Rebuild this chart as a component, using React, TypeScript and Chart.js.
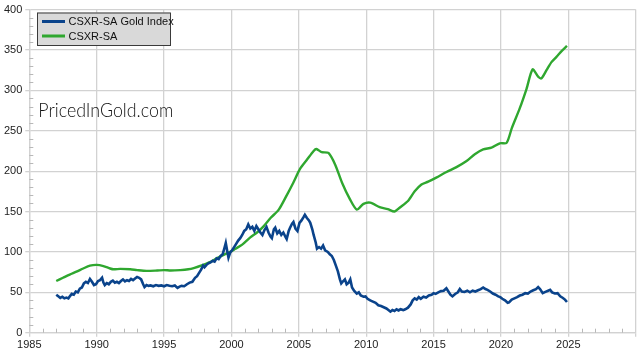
import React, { useEffect, useRef } from "react";
import { Chart, registerables } from "chart.js";

Chart.register(...registerables);

// CSXR-SA (Case-Shiller composite, seasonally adjusted)
const csxrYears = [
  1987.0, 1987.5, 1988.0, 1988.5, 1989.0, 1989.5, 1990.0, 1990.5, 1991.0, 1991.25,
  1991.75, 1992.5, 1993.0, 1993.7, 1994.5, 1995.0, 1995.5, 1996.2, 1996.8, 1997.2,
  1997.9, 1998.5, 1998.9, 1999.5, 1999.9, 2000.3, 2000.8, 2001.4, 2001.9, 2002.4,
  2002.9, 2003.5, 2004.1, 2004.6, 2005.1, 2005.6, 2006.1, 2006.3, 2006.7, 2007.2,
  2007.7, 2008.2, 2008.8, 2009.3, 2009.8, 2010.3, 2011.0, 2011.6, 2012.1, 2012.5,
  2013.1, 2013.6, 2014.1, 2014.6, 2015.2, 2015.96, 2016.7, 2017.45, 2018.06, 2018.68,
  2019.3, 2019.92, 2020.42, 2020.8, 2021.4, 2021.9, 2022.35, 2022.76, 2023.01, 2023.38,
  2023.75, 2024.12, 2024.5, 2024.9,
];
const csxrValues = [
  64, 68, 72, 75.5, 79.5, 83, 84, 82.5, 79.5, 78.5,
  79, 78.5, 77.5, 76.5, 77, 77.5, 77, 77.5, 78.5, 80,
  84, 88, 92, 97, 100, 104, 109, 118, 124, 132,
  142, 152, 170, 186, 203, 214, 225, 227.4, 223.5, 222.5,
  208, 186, 165, 152.5, 159.5, 161, 155.5, 153, 150, 155,
  163, 175, 183.5, 187, 192, 199, 205, 212.5, 221, 227,
  229, 234.5, 235, 253, 278, 302, 326, 317, 315, 325,
  335, 341.5, 348.5, 355,
];

// CSXR-SA Gold Index
const goldYears = [
  1987.0, 1987.15, 1987.3, 1987.45, 1987.6, 1987.75, 1987.9, 1988.05, 1988.15, 1988.3,
  1988.45, 1988.6, 1988.75, 1988.9, 1989.05, 1989.2, 1989.35, 1989.5, 1989.65, 1989.8,
  1989.95, 1990.1, 1990.25, 1990.4, 1990.5, 1990.6, 1990.75, 1990.9, 1991.05, 1991.2,
  1991.35, 1991.5, 1991.65, 1991.8, 1991.95, 1992.1, 1992.25, 1992.4, 1992.55, 1992.7,
  1992.85, 1993.0, 1993.15, 1993.3, 1993.45, 1993.55, 1993.7, 1993.85, 1994.0, 1994.2,
  1994.4, 1994.6, 1994.8, 1995.0, 1995.2, 1995.4, 1995.6, 1995.8, 1996.0, 1996.15,
  1996.3, 1996.5, 1996.7, 1996.9, 1997.1, 1997.3, 1997.45, 1997.6, 1997.75, 1997.9,
  1998.0, 1998.15, 1998.3, 1998.45, 1998.6, 1998.75, 1998.9, 1999.05, 1999.2, 1999.35,
  1999.5, 1999.58, 1999.7, 1999.78, 1999.9, 2000.05, 2000.2, 2000.35, 2000.5, 2000.65,
  2000.8, 2000.95, 2001.1, 2001.25, 2001.4, 2001.55, 2001.7, 2001.85, 2002.0, 2002.15,
  2002.3, 2002.45, 2002.6, 2002.75, 2002.9, 2003.0, 2003.15, 2003.25, 2003.4, 2003.55,
  2003.7, 2003.85, 2004.0, 2004.1, 2004.25, 2004.35, 2004.5, 2004.6, 2004.75, 2004.9,
  2005.05, 2005.2, 2005.35, 2005.45, 2005.6, 2005.75, 2005.85, 2006.0, 2006.1, 2006.25,
  2006.35, 2006.5, 2006.65, 2006.8, 2006.95, 2007.15, 2007.3, 2007.45, 2007.6, 2007.75,
  2007.9, 2008.05, 2008.15, 2008.3, 2008.42, 2008.55, 2008.7, 2008.82, 2008.95, 2009.1,
  2009.3, 2009.45, 2009.6, 2009.8, 2009.95, 2010.1, 2010.3, 2010.5, 2010.7, 2010.9,
  2011.1, 2011.3, 2011.5, 2011.65, 2011.8, 2011.95, 2012.1, 2012.25, 2012.4, 2012.55,
  2012.75, 2012.9, 2013.1, 2013.3, 2013.45, 2013.6, 2013.75, 2013.9, 2014.05, 2014.25,
  2014.45, 2014.65, 2014.85, 2015.0, 2015.15, 2015.35, 2015.55, 2015.75, 2015.95, 2016.1,
  2016.25, 2016.4, 2016.6, 2016.8, 2016.95, 2017.1, 2017.3, 2017.5, 2017.7, 2017.9,
  2018.1, 2018.3, 2018.5, 2018.68, 2018.85, 2019.0, 2019.2, 2019.4, 2019.6, 2019.8,
  2019.95, 2020.1, 2020.3, 2020.5, 2020.6, 2020.8, 2021.0, 2021.2, 2021.4, 2021.6,
  2021.8, 2022.0, 2022.2, 2022.4, 2022.6, 2022.76, 2022.9, 2023.1, 2023.3, 2023.5,
  2023.65, 2023.8, 2024.0, 2024.2, 2024.4, 2024.6, 2024.75, 2024.9,
];
const goldValues = [
  47, 45, 43, 44.5, 42.5, 43.5, 42.5, 46, 48, 47,
  51, 50, 54.5, 56, 61, 63, 61.5, 66.5, 63, 59,
  60, 64, 65, 68, 62, 59, 61.5, 60, 63, 64.5,
  62, 63, 61.5, 64, 66, 63.5, 65, 64, 66.5, 65,
  67, 69, 68, 66, 60, 56.5, 59, 58, 58.5, 57.5,
  59, 58, 58.5, 57.5, 59, 58, 57.5, 58.5, 55.5, 57,
  58, 57.5, 60, 62, 63, 68, 70, 74, 78, 83,
  81, 84, 86, 87, 89, 88, 92, 91, 95, 97,
  106, 111, 100, 93, 99, 102, 106, 110, 114, 117,
  121, 126, 128, 134, 129, 131, 126, 132, 128, 124,
  121, 127, 131, 124, 119, 117, 128, 130, 123, 126,
  121, 124, 119, 116, 126, 130, 135, 137, 129, 126,
  136, 139, 143, 146, 142, 139, 136, 128, 121, 112,
  104, 106, 104, 108, 102, 100, 97, 95, 90, 83,
  76, 66, 61, 64, 66, 60, 62, 66, 56, 52,
  48.5, 50, 46, 44.5, 45, 42, 40, 38.5, 37, 34,
  33, 31.5, 30, 28, 26, 28, 27, 29, 27.5, 29,
  28, 29, 31, 35, 40, 42.5, 41, 44, 42, 44.5,
  43.5, 46, 47, 49, 48, 50, 51.5, 52, 55, 51,
  47, 45, 48, 50, 54, 51, 50.5, 52, 50, 52,
  51, 52.5, 54, 56, 54, 53, 51, 48.5, 47, 45,
  44, 42, 40, 37, 37.5, 41, 42.5, 44, 46, 47,
  49, 48.5, 51, 52.5, 54, 56.5, 54, 49, 50.5, 52,
  53, 50, 48.5, 49, 45, 43, 41, 38,
];

const legendLabels = ["CSXR-SA Gold Index", "CSXR-SA"];
const xTickYears = [1985, 1990, 1995, 2000, 2005, 2010, 2015, 2020, 2025];
const watermark = "PricedInGold.com";

const BLUE = "#0a438b";
const GREEN = "#2fa72f";
const GRID = "#d2d2d2";

const decorPlugin = {
  id: "decor",
  beforeDatasetsDraw(chart: any) {
    const { ctx, chartArea, scales } = chart;
    const xs = scales.x;
    const ys = scales.y;
    ctx.save();
    ctx.strokeStyle = "#b8b8b8";
    ctx.lineWidth = 1;
    for (let v = 10; v < 400; v += 10) {
      if (v % 50 === 0) continue;
      const y = Math.round(ys.getPixelForValue(v)) + 0.5;
      ctx.beginPath();
      ctx.moveTo(chartArea.left, y);
      ctx.lineTo(chartArea.left + 4, y);
      ctx.stroke();
    }
    for (let v = 1986; v < 2030; v += 1) {
      if (v % 5 === 0) continue;
      const x = Math.round(xs.getPixelForValue(v)) + 0.5;
      ctx.beginPath();
      ctx.moveTo(x, chartArea.bottom);
      ctx.lineTo(x, chartArea.bottom - 4);
      ctx.stroke();
    }
    // watermark
    ctx.fillStyle = "#111";
    ctx.font = '300 19px "Lato", "DejaVu Sans", sans-serif';
    ctx.textBaseline = "alphabetic";
    ctx.textAlign = "left";
    ctx.fillText(watermark, chartArea.left + 9, 117, 135);
    ctx.restore();
  },
  afterDraw(chart: any) {
    const { ctx } = chart;
    ctx.save();
    const bx = 37, by = 12.5, bw = 133, bh = 32.5;
    ctx.fillStyle = "#d9d9d9";
    ctx.fillRect(bx, by, bw, bh);
    ctx.strokeStyle = "#3a3a3a";
    ctx.lineWidth = 1;
    ctx.strokeRect(bx + 0.5, by + 0.5, bw, bh);
    const colors = [BLUE, GREEN];
    const rows = [21.5, 36];
    ctx.font = '11px "Liberation Sans", Arial, sans-serif';
    ctx.textBaseline = "middle";
    ctx.fillStyle = "#111";
    legendLabels.forEach((lab, i) => {
      ctx.strokeStyle = colors[i];
      ctx.lineWidth = 3;
      ctx.beginPath();
      ctx.moveTo(42, rows[i]);
      ctx.lineTo(65, rows[i]);
      ctx.stroke();
      ctx.fillText(lab, 68.5, rows[i] + 0.5);
    });
    ctx.restore();
  },
};

export default function App() {
  const canvasRef = useRef<HTMLCanvasElement | null>(null);

  useEffect(() => {
    const canvas = canvasRef.current;
    if (!canvas) return;
    const goldData = goldYears.map((x, i) => ({ x, y: goldValues[i] }));
    const csxrData = csxrYears.map((x, i) => ({ x, y: csxrValues[i] }));
    const chart = new Chart(canvas, {
      type: "line",
      data: {
        datasets: [
          {
            label: legendLabels[0],
            data: goldData,
            borderColor: BLUE,
            borderWidth: 2.6,
            pointRadius: 0,
            tension: 0,
            fill: false,
          },
          {
            label: legendLabels[1],
            data: csxrData,
            borderColor: GREEN,
            borderWidth: 2.4,
            pointRadius: 0,
            tension: 0.25,
            fill: false,
          },
        ],
      },
      options: {
        responsive: false,
        animation: false,
        layout: { padding: { left: 0, right: 4.3, top: 7, bottom: 0 } },
        plugins: {
          legend: { display: false },
          tooltip: { enabled: false },
        },
        scales: {
          x: {
            type: "linear",
            min: 1985,
            max: 2030,
            afterBuildTicks: (scale: any) => {
              const t = xTickYears.map((v) => ({ value: v }));
              t.push({ value: 2030 });
              scale.ticks = t;
            },
            afterFit: (scale: any) => {
              scale.height = 23.3;
              scale.paddingLeft = 0;
              scale.paddingRight = 0;
            },
            ticks: {
              color: "#222",
              font: { family: '"Liberation Sans", Arial, sans-serif', size: 11 },
              padding: 2,
              maxRotation: 0,
              autoSkip: false,
              callback: (v: any) => (xTickYears.includes(Number(v)) ? String(v) : ""),
            },
            grid: { color: GRID, lineWidth: 1.3, tickLength: 4, tickColor: GRID },
            border: { color: GRID, width: 1.3 },
          },
          y: {
            type: "linear",
            min: 0,
            max: 400,
            afterFit: (scale: any) => {
              scale.width = 29.3;
            },
            ticks: {
              stepSize: 50,
              color: "#222",
              font: { family: '"Liberation Sans", Arial, sans-serif', size: 11 },
              padding: 3,
            },
            grid: { color: GRID, lineWidth: 1.3, tickLength: 4, tickColor: GRID },
            border: { color: GRID, width: 1.3 },
          },
        },
      },
      plugins: [decorPlugin],
    });
    return () => chart.destroy();
  }, []);

  return (
    <div style={{ position: "fixed", left: 0, top: 0, width: 640, height: 356, background: "#fff" }}>
      <canvas ref={canvasRef} width={640} height={356} style={{ display: "block" }} />
    </div>
  );
}
